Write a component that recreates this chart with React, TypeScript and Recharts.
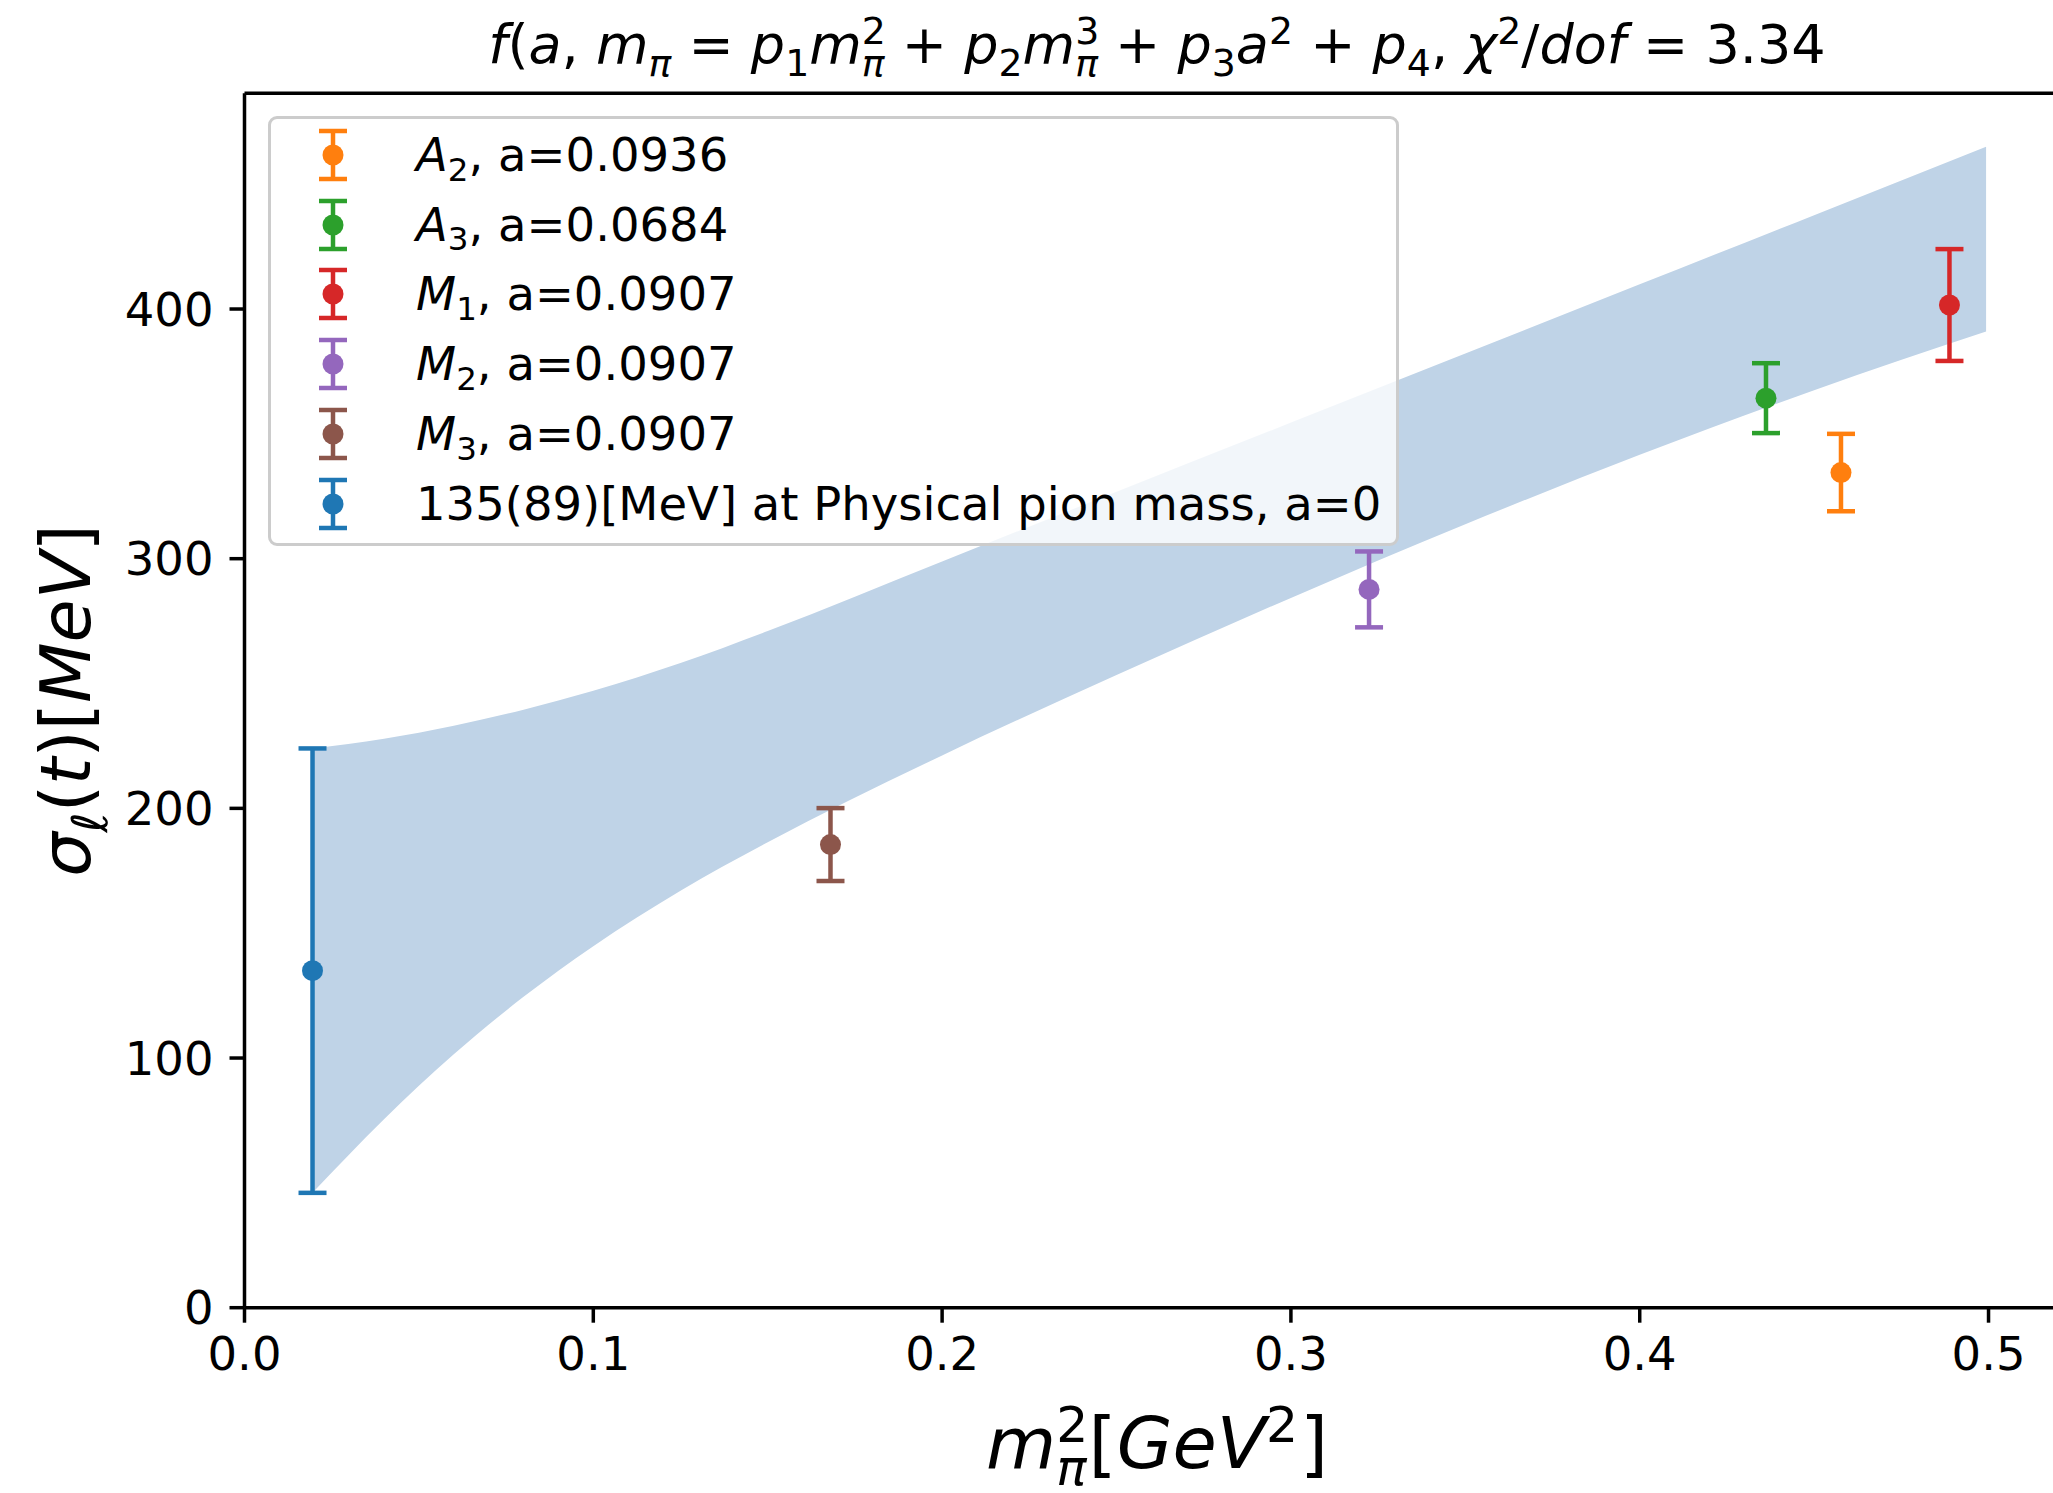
import React from 'react';
import {
  ComposedChart,
  Area,
  Scatter,
  ErrorBar,
  XAxis,
  YAxis,
  ReferenceLine,
  Legend,
} from 'recharts';

const FONT = '"DejaVu Sans", sans-serif';

// fit band (lower / upper edge) sampled along m_pi^2
const bandX = [0.0195, 0.04, 0.06, 0.08, 0.1, 0.125, 0.15, 0.2, 0.25, 0.3, 0.35, 0.4, 0.45, 0.4993];
const bandLow = [46, 75.5, 101.5, 124.5, 144.8, 167, 186.4, 221.2, 253.4, 284.3, 313.8, 341.6, 367.5, 391];
const bandHigh = [224, 227.9, 233.1, 239.5, 247.1, 258.2, 271, 298.9, 326.8, 354.5, 382.2, 409.9, 437.6, 465];

// ensembles + extrapolated value at the physical point
const seriesX = [0.4577, 0.4362, 0.4888, 0.3224, 0.168, 0.0195];
const seriesY = [334.5, 364.3, 401.6, 287.7, 185.5, 135];
const seriesErr = [15.5, 14, 22.4, 15.2, 14.6, 89];
const seriesColors = ['#ff7f0e', '#2ca02c', '#d62728', '#9467bd', '#8c564b', '#1f77b4'];
const legendSymbol = ['A', 'A', 'M', 'M', 'M', ''];
const legendIndex = ['2', '3', '1', '2', '3', ''];
const legendRest = [
  ', a=0.0936',
  ', a=0.0684',
  ', a=0.0907',
  ', a=0.0907',
  ', a=0.0907',
  '135(89)[MeV] at Physical pion mass, a=0',
];

const xTicks = [0, 0.1, 0.2, 0.3, 0.4, 0.5];
const yTicks = [0, 100, 200, 300, 400];
const X_MAX = 0.5233;
const Y_MAX = 486.4;

const bandData = bandX.map((x, i) => ({ x, range: [bandLow[i], bandHigh[i]] }));

type Piece = { t: string; it?: boolean; pos?: 'sub' | 'sup'; dx?: number };

// poor man's mathtext: italics plus shifted, shrunk scripts
const renderMath = (pieces: Piece[], fs: number) => {
  let level = 0;
  return pieces.map((p, i) => {
    const target = p.pos === 'sub' ? fs * 0.24 : p.pos === 'sup' ? -fs * 0.36 : 0;
    const dy = target - level;
    level = target;
    return (
      <tspan
        key={i}
        dy={dy}
        dx={p.dx ?? 0}
        fontStyle={p.it ? 'italic' : 'normal'}
        fontSize={p.pos ? fs * 0.7 : fs}
      >
        {p.t}
      </tspan>
    );
  });
};

const SW = 0.636 * 0.7; // advance of a script digit, in em

const TITLE_FS = 54;
const titlePieces: Piece[] = [
  { t: 'f', it: true }, { t: '(' }, { t: 'a', it: true }, { t: ', ' },
  { t: 'm', it: true }, { t: 'π', it: true, pos: 'sub' }, { t: ' = ' },
  { t: 'p', it: true }, { t: '1', pos: 'sub' }, { t: 'm', it: true },
  { t: '2', pos: 'sup' }, { t: 'π', it: true, pos: 'sub', dx: -SW * TITLE_FS }, { t: ' + ' },
  { t: 'p', it: true }, { t: '2', pos: 'sub' }, { t: 'm', it: true },
  { t: '3', pos: 'sup' }, { t: 'π', it: true, pos: 'sub', dx: -SW * TITLE_FS }, { t: ' + ' },
  { t: 'p', it: true }, { t: '3', pos: 'sub' }, { t: 'a', it: true }, { t: '2', pos: 'sup' }, { t: ' + ' },
  { t: 'p', it: true }, { t: '4', pos: 'sub' }, { t: ', ' },
  { t: 'χ', it: true }, { t: '2', pos: 'sup' }, { t: '/' }, { t: 'dof', it: true },
  { t: ' = ' }, { t: '3.34' },
];

const XLABEL_FS = 72;
const YLABEL_FS = 70;
const xLabelPieces: Piece[] = [
  { t: 'm', it: true }, { t: '2', pos: 'sup' }, { t: 'π', it: true, pos: 'sub', dx: -SW * XLABEL_FS },
  { t: '[', dx: 2 }, { t: 'GeV', it: true }, { t: '2', pos: 'sup' }, { t: ']', dx: 2 },
];
const yLabelPieces: Piece[] = [
  { t: 'σ', it: true }, { t: 'ℓ', it: true, pos: 'sub' }, { t: '(' }, { t: 't', it: true }, { t: ')' },
  { t: '[' }, { t: 'MeV', it: true }, { t: ']' },
];

const XTitle = (props: any) => {
  const vb = props.viewBox;
  return (
    <text
      x={vb.x + vb.width / 2}
      y={vb.y + 160}
      textAnchor="middle"
      fontFamily={FONT}
      fill="#000"
      style={{ whiteSpace: 'pre' }}
    >
      {renderMath(xLabelPieces, XLABEL_FS)}
    </text>
  );
};

const YTitle = (props: any) => {
  const vb = props.viewBox;
  return (
    <text
      transform={`translate(90, ${vb.y + vb.height / 2}) rotate(-90)`}
      textAnchor="middle"
      fontFamily={FONT}
      fill="#000"
      style={{ whiteSpace: 'pre' }}
    >
      {renderMath(yLabelPieces, YLABEL_FS)}
    </text>
  );
};

const ErrGlyph = ({ color }: { color: string }) => (
  <svg width={40} height={56}>
    <line x1={20} y1={4} x2={20} y2={52} stroke={color} strokeWidth={4.5} />
    <line x1={6} y1={4} x2={34} y2={4} stroke={color} strokeWidth={4.5} />
    <line x1={6} y1={52} x2={34} y2={52} stroke={color} strokeWidth={4.5} />
    <circle cx={20} cy={28} r={10.5} fill={color} />
  </svg>
);

const renderLegend = () => (
  <div
    style={{
      boxSizing: 'border-box',
      width: 1131,
      height: 430,
      border: '3px solid #cccccc',
      borderRadius: 9,
      background: 'rgba(255,255,255,0.8)',
      paddingTop: 1,
      fontFamily: FONT,
      fontSize: 46.5,
      color: '#000',
    }}
  >
    {legendRest.map((rest, i) => (
      <div key={i} style={{ height: 69.8, display: 'flex', alignItems: 'center' }}>
        <div style={{ marginLeft: 42, width: 40, height: 56 }}>
          <ErrGlyph color={seriesColors[i]} />
        </div>
        <span style={{ marginLeft: 63, whiteSpace: 'pre' }}>
          {legendSymbol[i] && <i>{legendSymbol[i]}</i>}
          {legendIndex[i] && (
            <span style={{ fontSize: '0.7em', position: 'relative', top: '0.3em' }}>
              {legendIndex[i]}
            </span>
          )}
          {rest}
        </span>
      </div>
    ))}
  </div>
);

const App = () => {
  return (
    <div
      style={{
        position: 'fixed',
        left: 0,
        top: 0,
        width: 2053,
        height: 1493,
        overflow: 'hidden',
        background: '#fff',
      }}
    >
      <svg width={2053} height={92} style={{ position: 'absolute', left: 0, top: 0 }}>
        <text x={1157} y={63} textAnchor="middle" fontFamily={FONT} fill="#000" style={{ whiteSpace: 'pre' }}>
          {renderMath(titlePieces, TITLE_FS)}
        </text>
      </svg>
      <ComposedChart
        width={2120}
        height={1493}
        data={bandData}
        margin={{ top: 93.3, right: 50.2, bottom: 35.3, left: 44.5 }}
      >
        <XAxis
          dataKey="x"
          type="number"
          domain={[0, X_MAX]}
          ticks={xTicks}
          interval={0}
          allowDataOverflow
          tickFormatter={(v: number) => v.toFixed(1)}
          tick={{ fontSize: 46.5, fill: '#000', fontFamily: FONT }}
          tickSize={15}
          tickMargin={14}
          axisLine={{ stroke: '#000', strokeWidth: 3.5 }}
          tickLine={{ stroke: '#000', strokeWidth: 3.5 }}
          height={150}
          label={<XTitle />}
        />
        <YAxis
          dataKey="y"
          type="number"
          domain={[0, Y_MAX]}
          ticks={yTicks}
          interval={0}
          allowDataOverflow
          tick={{ fontSize: 46.5, fill: '#000', fontFamily: FONT }}
          tickSize={15}
          tickMargin={16}
          axisLine={{ stroke: '#000', strokeWidth: 3.5 }}
          tickLine={{ stroke: '#000', strokeWidth: 3.5 }}
          width={200}
          label={<YTitle />}
        />
        <ReferenceLine y={Y_MAX} stroke="#000" strokeWidth={3.5} />
        <Area
          type="monotone"
          dataKey="range"
          stroke="none"
          fill="#bfd3e7"
          fillOpacity={1}
          dot={false}
          activeDot={false}
          isAnimationActive={false}
        />
        {seriesX.map((x, i) => (
          <Scatter
            key={i}
            data={[{ x, y: seriesY[i], err: seriesErr[i] }]}
            fill={seriesColors[i]}
            isAnimationActive={false}
            shape={(p: any) => <circle cx={p.cx} cy={p.cy} r={10.5} fill={seriesColors[i]} />}
          >
            <ErrorBar
              dataKey="err"
              direction="y"
              width={14}
              stroke={seriesColors[i]}
              strokeWidth={4.5}
              isAnimationActive={false}
            />
          </Scatter>
        ))}
        <Legend
          layout="vertical"
          align="center"
          verticalAlign="middle"
          wrapperStyle={{ left: 268, top: 116, width: 1131, height: 430 }}
          content={renderLegend}
        />
      </ComposedChart>
    </div>
  );
};

export default App;
